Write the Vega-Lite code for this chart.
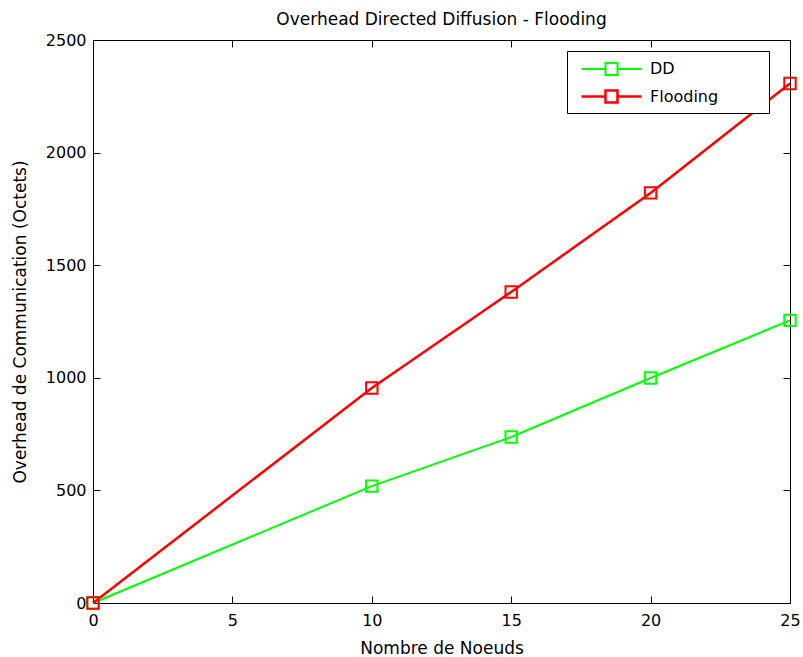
{
  "$schema": "https://vega.github.io/schema/vega-lite/v6.json",
  "width": 697,
  "height": 563,
  "autosize": "none",
  "padding": {"left": 93, "top": 40, "right": 13, "bottom": 54},
  "background": "white",
  "config": {
    "font": "DejaVu Sans",
    "view": {"stroke": "black", "strokeWidth": 1},
    "axis": {
      "domain": true, "domainColor": "black", "grid": false,
      "tickColor": "black", "tickSize": -7, "labelColor": "black",
      "labelFont": "DejaVu Sans", "labelFontSize": 16, "labelFlush": false, "labelOverlap": false,
      "titleFont": "DejaVu Sans", "titleFontSize": 17, "titleColor": "black", "titleFontWeight": "normal"
    }
  },
  "title": {"text": "Overhead Directed Diffusion - Flooding", "font": "DejaVu Sans", "fontSize": 17, "fontWeight": "normal", "color": "black", "offset": 3},
  "data": {"values": [
    {"n": 0, "v": 0, "s": "DD"},
    {"n": 10, "v": 519, "s": "DD"},
    {"n": 15, "v": 737, "s": "DD"},
    {"n": 20, "v": 999, "s": "DD"},
    {"n": 25, "v": 1255, "s": "DD"},
    {"n": 0, "v": 0, "s": "Flooding"},
    {"n": 10, "v": 955, "s": "Flooding"},
    {"n": 15, "v": 1381, "s": "Flooding"},
    {"n": 20, "v": 1821, "s": "Flooding"},
    {"n": 25, "v": 2307, "s": "Flooding"}
  ]},
  "layer": [
    {
      "mark": {"type": "line"},
      "encoding": {
        "x": {"field": "n", "type": "quantitative", "scale": {"domain": [0, 25], "nice": false}, "axis": {"values": [0,5,10,15,20,25], "format": "d", "title": "Nombre de Noeuds", "titlePadding": 12, "labelPadding": 16}},
        "y": {"field": "v", "type": "quantitative", "scale": {"domain": [0, 2500], "nice": false}, "axis": {"values": [0,500,1000,1500,2000,2500], "format": "d", "title": "Overhead de Communication (Octets)", "titlePadding": 16, "labelPadding": 14}},
        "strokeWidth": {"field": "s", "type": "nominal", "scale": {"domain": ["DD", "Flooding"], "range": [2, 2.5]}, "legend": null},
        "color": {"field": "s", "type": "nominal", "scale": {"domain": ["DD", "Flooding"], "range": ["#00ff00", "#ff0000"]},
          "legend": {"title": null, "orient": "none", "legendX": 474, "legendY": 11, "symbolType": "M-2.5,0H-0.5M0.5,0H2.5M-0.5,-0.5H0.5V0.5H-0.5Z", "symbolSize": 576, "symbolOffset": 26, "symbolStrokeWidth": 2, "symbolFillColor": "transparent", "labelFont": "DejaVu Sans", "labelFontSize": 16, "labelColor": "black", "labelExpr": "datum.label + '\u00a0\u00a0\u00a0\u00a0\u00a0\u00a0\u00a0\u00a0\u00a0\u200b'", "strokeColor": "black", "fillColor": "white", "padding": 5, "rowPadding": 4, "labelOffset": 25, "labelLimit": 300}}
      }
    },
    {
      "mark": {"type": "point", "shape": "square", "size": 130, "filled": false, "strokeWidth": 2, "opacity": 1},
      "encoding": {
        "x": {"field": "n", "type": "quantitative", "axis": {"orient": "top", "values": [0,5,10,15,20,25], "labels": false, "title": null}},
        "y": {"field": "v", "type": "quantitative", "axis": {"orient": "right", "values": [0,500,1000,1500,2000,2500], "labels": false, "title": null}},
        "color": {"field": "s", "type": "nominal", "legend": null}
      }
    }
  ],
  "resolve": {"axis": {"x": "independent", "y": "independent"}}
}
